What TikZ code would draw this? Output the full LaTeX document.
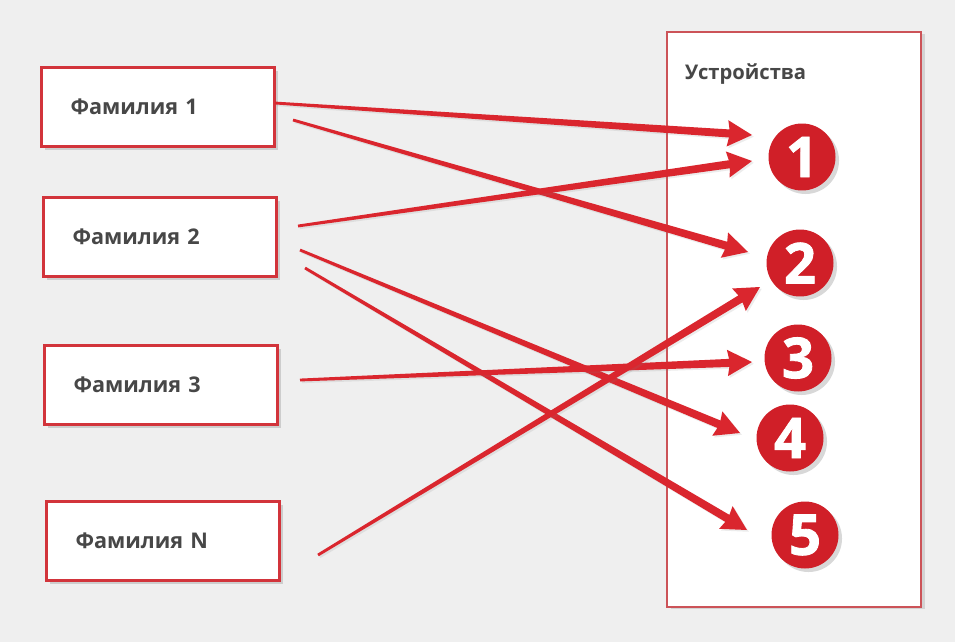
\documentclass[tikz,border=0pt]{standalone}
\usepackage{fontspec}
\setmainfont{Open Sans}
\newfontfamily\numfont[FakeBold=1.5]{Open Sans}
\usepackage{xcolor}
\usetikzlibrary{arrows.meta,positioning,calc,shadows}

\definecolor{bgGrey}{HTML}{EFEFEF}
\definecolor{boxRed}{HTML}{D2343B}
\definecolor{devRed}{HTML}{CC5358}
\definecolor{arrRed}{HTML}{DA262E}
\definecolor{numRed}{HTML}{D01F28}
\definecolor{txtGrey}{HTML}{474747}

\begin{document}
\begin{tikzpicture}[x=0.02cm, y=-0.02cm,
    fambox/.style={draw=boxRed, line width=1.8pt, fill=white,
        minimum width=4.66cm, minimum height=1.58cm, text width=3.5cm,
        align=left, inner xsep=0.58cm, text=txtGrey,
        font=\fontsize{12.3}{15}\selectfont\bfseries,
        drop shadow={shadow xshift=2pt, shadow yshift=-2pt, opacity=0.3}},
    devbox/.style={draw=devRed, line width=1pt, fill=white,
        minimum width=5.08cm, minimum height=11.5cm,
        drop shadow={shadow xshift=2pt, shadow yshift=-1pt, opacity=0.25}},
    numdot/.style={circle, fill=numRed, text=white, minimum size=1.34cm,
        inner sep=0pt, font=\fontsize{32}{32}\numfont\bfseries,
        drop shadow={shadow xshift=2pt, shadow yshift=-2pt, opacity=0.3}},
    taper/.style={to path={
        ($(\tikztostart)!0.8pt!90:(\tikztotarget)$)
        -- ($(\tikztotarget)!13pt!(\tikztostart)!2.3pt!-90:(\tikztostart)$)
        -- ($(\tikztotarget)!14pt!(\tikztostart)!7.5pt!-90:(\tikztostart)$)
        -- (\tikztotarget)
        -- ($(\tikztotarget)!14pt!(\tikztostart)!7.5pt!90:(\tikztostart)$)
        -- ($(\tikztotarget)!13pt!(\tikztostart)!2.3pt!90:(\tikztostart)$)
        -- ($(\tikztostart)!0.8pt!-90:(\tikztotarget)$) -- cycle}},
    link/.style={fill=arrRed,
        drop shadow={shadow xshift=1pt, shadow yshift=-1pt, opacity=0.15}}]

    % Background
    \fill[bgGrey] (0,0) rectangle (955,642);
    \useasboundingbox (0,0) rectangle (955,642);

    % Devices panel
    \node[devbox] (dev) at (794,319.5) {};
    \node[anchor=west, text=txtGrey, font=\fontsize{11.5}{14}\selectfont\bfseries]
        (devtitle) at (679,74) {Устройства};

    % Families
    \node[fambox] (fam1) at (158,107) {Фамилия 1};
    \node[fambox] (fam2) at (160,237) {Фамилия 2};
    \node[fambox] (fam3) at (161,385) {Фамилия 3};
    \node[fambox] (famN) at (163,541) {Фамилия N};

    % Numbered devices
    \node[numdot] (dev1) at (802,157) {1};
    \node[numdot] (dev2) at (800,263) {2};
    \node[numdot] (dev3) at (798,358) {3};
    \node[numdot] (dev4) at (790,438) {4};
    \node[numdot] (dev5) at (805,535) {5};

    % Link ends
    \coordinate (f1a) at (275,103);
    \coordinate (f1b) at (293,120);
    \coordinate (f2a) at (298,226);
    \coordinate (f2b) at (300,250);
    \coordinate (f2c) at (305,268);
    \coordinate (f3a) at (300,380);
    \coordinate (fNa) at (318,555);
    \coordinate (in1a) at (752,135);
    \coordinate (in1b) at (752,161);
    \coordinate (in2a) at (748,252);
    \coordinate (in2b) at (760,287);
    \coordinate (in3) at (752,362);
    \coordinate (in4) at (740,433);
    \coordinate (in5) at (747,530);

    % Links
    \fill[link] (f1a) to[taper] (in1a);
    \fill[link] (f1b) to[taper] (in2a);
    \fill[link] (f2a) to[taper] (in1b);
    \fill[link] (f2b) to[taper] (in4);
    \fill[link] (f2c) to[taper] (in5);
    \fill[link] (f3a) to[taper] (in3);
    \fill[link] (fNa) to[taper] (in2b);
\end{tikzpicture}
\end{document}
